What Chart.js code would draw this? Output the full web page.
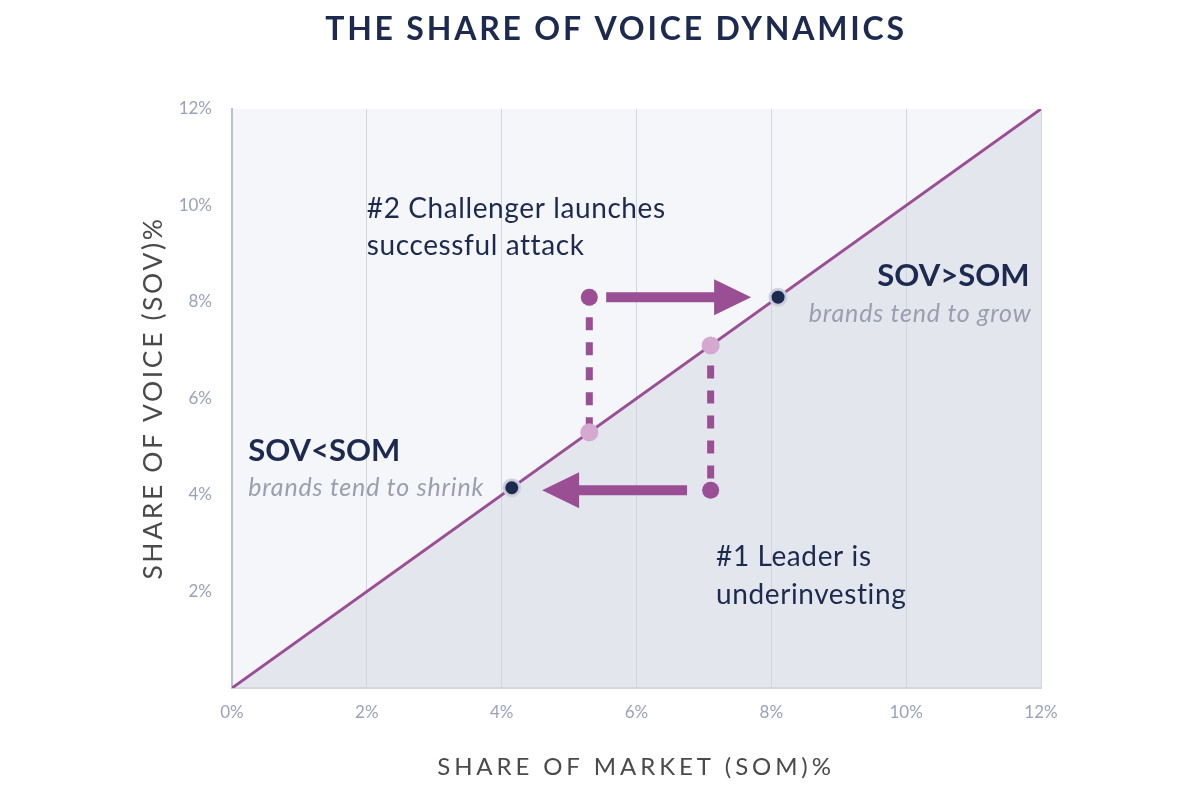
<!DOCTYPE html>
<html>
<head>
<meta charset="utf-8">
<script src="https://cdn.jsdelivr.net/npm/chart.js@4.4.1/dist/chart.umd.min.js"></script>
<style>
  html, body { margin: 0; padding: 0; background: #ffffff; }
  #wrap { width: 1200px; height: 800px; position: relative; }
</style>
</head>
<body>
<div id="wrap"><canvas id="c" width="1200" height="800"></canvas></div>
<script>
// ---- DATA ----
const xTickLabels = ['0%', '2%', '4%', '6%', '8%', '10%', '12%'];
const yTickLabels = ['', '2%', '4%', '6%', '8%', '10%', '12%'];
const axisMin = 0;
const axisMax = 12;

const paritySOM = [0, 12];
const paritySOV = [0, 12];

// navy outcome points on the parity line
const resultSOM = [4.15, 8.1];
const resultSOV = [4.15, 8.1];
// pink starting points on the parity line
const startSOM = [5.3, 7.1];
const startSOV = [5.3, 7.1];
// purple shifted points (after SOV change)
const shiftedSOM = [5.3, 7.1];
const shiftedSOV = [8.1, 4.1];
// arrows
const arrowFromSOM = [5.55, 6.75];
const arrowToSOM = [7.7, 4.6];
const arrowSOV = [8.1, 4.1];

const titleText = 'THE SHARE OF VOICE DYNAMICS';
const xTitleText = 'SHARE OF MARKET (SOM)%';
const yTitleText = 'SHARE OF VOICE (SOV)%';

// annotations: text, anchor SOM, anchor SOV, style
const noteTexts = ['#2 Challenger launches', 'successful attack', 'SOV>SOM', 'brands tend to grow', 'SOV<SOM', 'brands tend to shrink', '#1 Leader is', 'underinvesting'];
const noteSOM   = [2.0, 2.0, 11.83, 11.86, 0.24, 0.24, 7.18, 7.18];
const noteSOV   = [9.92, 9.17, 8.53, 7.76, 4.92, 4.15, 2.72, 1.93];
const noteKind  = ['body', 'body', 'head', 'sub', 'head', 'sub', 'body', 'body'];
const noteAlign = ['left', 'left', 'right', 'right', 'left', 'left', 'left', 'left'];

// ---- STYLE ----
const NAVY = '#1c2a4f';
const PURPLE = '#9a4f95';
const PINK = '#d5a8cf';
const GRID = '#d3d6e0';
const LIGHT_BG = '#f5f6fa';
const DARK_BG = '#e4e6ee';
const FONT = 'Lato, "Open Sans", sans-serif';

function pts(xs, ys) { return xs.map((x, i) => ({ x: x, y: ys[i] })); }

function dashedSegment(i) {
  const a = { x: startSOM[i], y: startSOV[i] };
  const b = { x: shiftedSOM[i], y: shiftedSOV[i] };
  return a.y > b.y ? [a, b] : [b, a];
}

const bgPlugin = {
  id: 'bg',
  beforeDraw(chart) {
    const { ctx, chartArea: a, scales: { x, y } } = chart;
    ctx.save();
    ctx.fillStyle = '#ffffff';
    ctx.fillRect(0, 0, chart.width, chart.height);
    ctx.fillStyle = LIGHT_BG;
    ctx.fillRect(a.left, a.top, a.right - a.left, a.bottom - a.top);
    ctx.fillStyle = DARK_BG;
    ctx.beginPath();
    ctx.moveTo(x.getPixelForValue(paritySOM[0]), y.getPixelForValue(paritySOV[0]));
    ctx.lineTo(x.getPixelForValue(paritySOM[1]), y.getPixelForValue(axisMin));
    ctx.lineTo(x.getPixelForValue(paritySOM[1]), y.getPixelForValue(paritySOV[1]));
    ctx.closePath();
    ctx.fill();
    ctx.restore();
  }
};

function drawArrow(ctx, x0, x1, yy) {
  const dir = x1 > x0 ? 1 : -1;
  const headLen = 37, headHalf = 18, shaftHalf = 5;
  const xb = x1 - dir * headLen;
  ctx.beginPath();
  ctx.moveTo(x0, yy - shaftHalf);
  ctx.lineTo(xb, yy - shaftHalf);
  ctx.lineTo(xb, yy - headHalf);
  ctx.lineTo(x1, yy);
  ctx.lineTo(xb, yy + headHalf);
  ctx.lineTo(xb, yy + shaftHalf);
  ctx.lineTo(x0, yy + shaftHalf);
  ctx.closePath();
  ctx.fill();
}

const overlayPlugin = {
  id: 'overlay',
  beforeDatasetsDraw(chart) {
    const { ctx, scales: { x, y } } = chart;
    ctx.save();
    ctx.fillStyle = PURPLE;
    for (let i = 0; i < arrowSOV.length; i++) {
      drawArrow(ctx, x.getPixelForValue(arrowFromSOM[i]), x.getPixelForValue(arrowToSOM[i]), y.getPixelForValue(arrowSOV[i]));
    }
    ctx.restore();
  },
  afterDraw(chart) {
    const { ctx, scales: { x, y } } = chart;
    ctx.save();
    ctx.textBaseline = 'middle';
    // title
    ctx.fillStyle = NAVY;
    ctx.font = 'bold 32px ' + FONT;
    ctx.letterSpacing = '2.8px';
    ctx.textAlign = 'center';
    ctx.fillText(titleText, 616, 30);
    // x title
    ctx.fillStyle = '#4a4a4a';
    ctx.font = '24px ' + FONT;
    ctx.letterSpacing = '3.9px';
    ctx.fillText(xTitleText, 636, 767);
    // y title
    ctx.save();
    ctx.translate(153, 398);
    ctx.rotate(-Math.PI / 2);
    ctx.font = '26.5px ' + FONT;
    ctx.letterSpacing = '2.6px';
    ctx.fillText(yTitleText, 0, 0);
    ctx.restore();
    // notes
    for (let i = 0; i < noteTexts.length; i++) {
      const k = noteKind[i];
      if (k === 'head') { ctx.font = 'bold 31px ' + FONT; ctx.fillStyle = NAVY; ctx.letterSpacing = '0px'; }
      else if (k === 'sub') { ctx.font = 'italic 25px ' + FONT; ctx.fillStyle = '#9a9eae'; ctx.letterSpacing = '0.8px'; }
      else { ctx.font = '28px ' + FONT; ctx.fillStyle = NAVY; ctx.letterSpacing = '0.6px'; }
      ctx.textAlign = noteAlign[i];
      ctx.fillText(noteTexts[i], x.getPixelForValue(noteSOM[i]), y.getPixelForValue(noteSOV[i]));
    }
    ctx.restore();
  }
};

const seg0 = dashedSegment(0);
const seg1 = dashedSegment(1);

new Chart(document.getElementById('c'), {
  type: 'scatter',
  data: {
    datasets: [
      { label: 'result', data: pts(resultSOM, resultSOV), pointRadius: 8, pointHoverRadius: 8,
        backgroundColor: NAVY, borderColor: 'rgba(205,209,221,0.95)', borderWidth: 3, showLine: false },
      { label: 'start', data: pts(startSOM, startSOV), pointRadius: 9, backgroundColor: PINK,
        borderColor: PINK, borderWidth: 0, showLine: false },
      { label: 'shifted', data: pts(shiftedSOM, shiftedSOV), pointRadius: 8.5, backgroundColor: PURPLE,
        borderColor: PURPLE, borderWidth: 0, showLine: false },
      { label: 'dash0', data: seg0, showLine: true, pointRadius: 0, borderColor: PURPLE, borderWidth: 7,
        borderDash: [13, 12], borderDashOffset: 5, borderCapStyle: 'butt' },
      { label: 'dash1', data: seg1, showLine: true, pointRadius: 0, borderColor: PURPLE, borderWidth: 7,
        borderDash: [13, 12], borderDashOffset: 5, borderCapStyle: 'butt' },
      { label: 'parity', data: pts(paritySOM, paritySOV), showLine: true, pointRadius: 0,
        borderColor: PURPLE, borderWidth: 3 }
    ]
  },
  options: {
    responsive: false,
    animation: false,
    events: [],
    layout: { padding: { top: 109, right: 159, bottom: 0, left: 0 } },
    plugins: { legend: { display: false }, tooltip: { enabled: false }, title: { display: false } },
    scales: {
      x: {
        type: 'linear', min: axisMin, max: axisMax,
        afterFit(s) { s.height = 112; },
        ticks: { stepSize: 2, padding: 14, color: '#9ca1bb', font: { family: FONT, size: 17 },
          callback: (v) => xTickLabels[Math.round(v / 2)] },
        grid: { color: GRID, lineWidth: 1, drawTicks: false },
        border: { display: true, color: GRID, width: 2 }
      },
      y: {
        type: 'linear', min: axisMin, max: axisMax,
        afterFit(s) { s.width = 232; },
        ticks: { stepSize: 2, padding: 20, color: '#9ca1bb', font: { family: FONT, size: 17 },
          callback: (v) => yTickLabels[Math.round(v / 2)] },
        grid: { display: false, drawTicks: false },
        border: { display: true, color: '#bcc1cf', width: 2 }
      }
    }
  },
  plugins: [bgPlugin, overlayPlugin]
});
</script>
</body>
</html>
